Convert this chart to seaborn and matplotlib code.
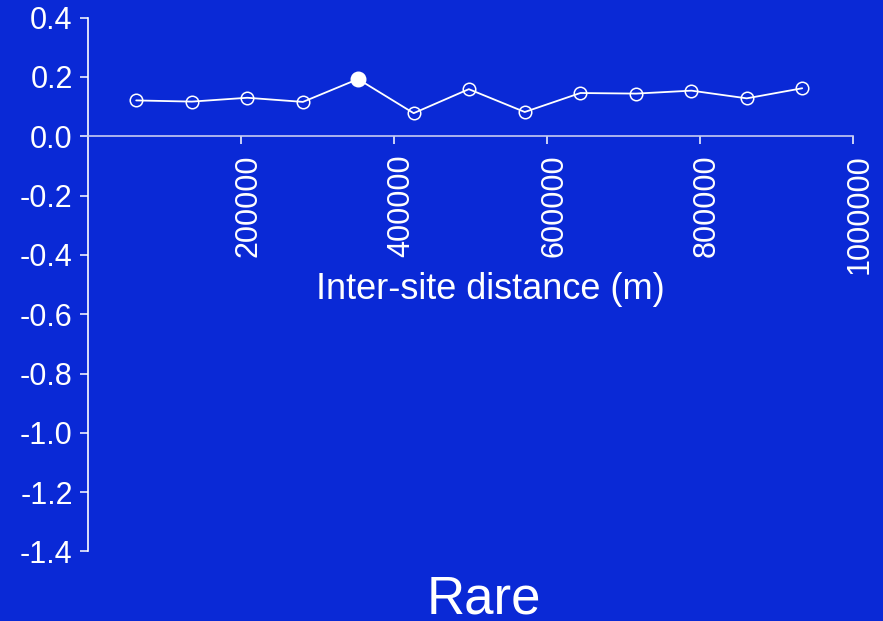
import matplotlib
matplotlib.use("Agg")
import matplotlib.pyplot as plt
import matplotlib.transforms as mtransforms
import seaborn as sns
import pandas as pd

# data
distance = [63000, 135700, 208200, 280900, 353000, 425700, 497800,
            570900, 643600, 716300, 788800, 861100, 933600]
correlation = [0.121, 0.117, 0.130, 0.116, 0.193, 0.078, 0.159,
               0.082, 0.146, 0.144, 0.154, 0.128, 0.162]
significant = [False, False, False, False, True, False, False,
               False, False, False, False, False, False]
x_ticks = [200000, 400000, 600000, 800000, 1000000]
y_ticks = [0.4, 0.2, 0.0, -0.2, -0.4, -0.6, -0.8, -1.0, -1.2, -1.4]
x_label = "Inter-site distance (m)"
title = "Rare"

BG = "#0a29d6"
sns.set_theme(style="white")
plt.rcParams["font.family"] = ["Liberation Sans", "DejaVu Sans"]
plt.rcParams["axes.unicode_minus"] = False

df = pd.DataFrame({"d": distance, "r": correlation, "sig": significant})

fig = plt.figure(figsize=(8.83, 6.21), dpi=100, facecolor=BG)
W, H = 883, 621
left, right, top, bottom = 88, 853, 17.7, 551.4
ax = fig.add_axes([left / W, (H - bottom) / H, (right - left) / W, (bottom - top) / H])
ax.set_facecolor(BG)

sns.lineplot(data=df, x="d", y="r", ax=ax, color="white", linewidth=1.3,
             marker="o", markersize=9, markerfacecolor="none",
             markeredgecolor="white", markeredgewidth=1.1)
sns.scatterplot(data=df[df["sig"]], x="d", y="r", ax=ax, color="white",
                s=110, edgecolor="white", linewidth=1, zorder=5)

for s in ["top", "right"]:
    ax.spines[s].set_visible(False)
ax.spines["bottom"].set_position(("data", 0))
ax.spines["bottom"].set_color("#c8ccf2")
ax.spines["bottom"].set_linewidth(1.2)
ax.spines["left"].set_color("white")
ax.spines["left"].set_linewidth(1.2)

ax.set_xlim(0, 1000000)
ax.set_ylim(-1.4, 0.4)
ax.set_xticks(x_ticks)
ax.set_xticklabels([str(t) for t in x_ticks])
ax.set_yticks(y_ticks)
ax.set_yticklabels([f"{t:.1f}" for t in y_ticks])

ax.tick_params(axis="y", colors="white", labelsize=22, length=6, width=1.1,
               direction="out", pad=5, left=True)
ax.tick_params(axis="x", colors="white", labelsize=22, length=6, width=1.1,
               direction="out", pad=7, bottom=True, labelrotation=90)

shift = mtransforms.ScaledTranslation(7 / 100, 0, fig.dpi_scale_trans)
for lab in ax.get_xticklabels():
    lab.set_transform(lab.get_transform() + shift)

ax.set_xlabel(x_label, fontsize=26, color="white", va="baseline")
ax.xaxis.set_label_coords((490 - left) / (right - left), (bottom - 299) / (bottom - top))
ax.set_ylabel("")

fig.text(484 / W, (H - 614) / H, title, ha="center", va="baseline",
         fontsize=38, color="white")

fig.savefig("out.png", dpi=100, facecolor=BG)
